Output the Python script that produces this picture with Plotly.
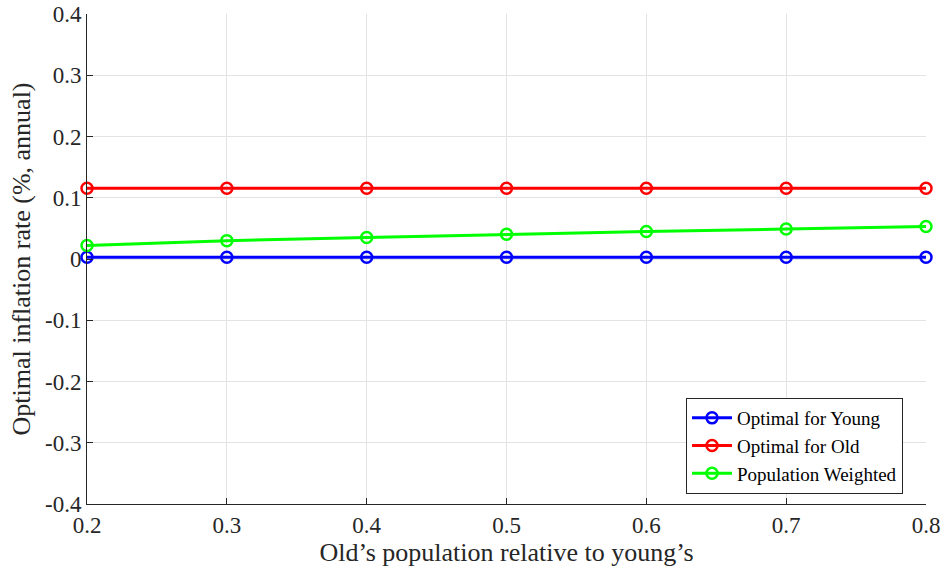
import plotly.graph_objects as go

x_vals = [0.2, 0.3, 0.4, 0.5, 0.6, 0.7, 0.8]
young = [0.003, 0.003, 0.003, 0.003, 0.003, 0.003, 0.003]
old = [0.1155, 0.1155, 0.1155, 0.1155, 0.1155, 0.1155, 0.1155]
weighted = [0.022, 0.030, 0.035, 0.0405, 0.045, 0.049, 0.053]

x_ticks = [0.2, 0.3, 0.4, 0.5, 0.6, 0.7, 0.8]
x_ticktext = ["0.2", "0.3", "0.4", "0.5", "0.6", "0.7", "0.8"]
y_ticks = [-0.4, -0.3, -0.2, -0.1, 0, 0.1, 0.2, 0.3, 0.4]
y_ticktext = ["-0.4", "-0.3", "-0.2", "-0.1", "0", "0.1", "0.2", "0.3", "0.4"]

series = [
    ("Optimal for Young", young, "#0000ff"),
    ("Optimal for Old", old, "#ff0000"),
    ("Population Weighted", weighted, "#00ff00"),
]

font = "Liberation Serif"
fig = go.Figure()
for name, vals, color in series:
    fig.add_trace(go.Scatter(
        x=x_vals, y=vals, name=name, mode="lines+markers",
        line=dict(color=color, width=3),
        marker=dict(symbol="circle-open", size=11, color=color, line=dict(width=2.5, color=color)),
        cliponaxis=False,
    ))

fig.update_layout(
    width=943, height=574,
    margin=dict(l=87, r=17, t=14, b=70, autoexpand=False),
    paper_bgcolor="white", plot_bgcolor="white",
    font=dict(family=font, size=23, color="#262626"),
    showlegend=True,
    legend=dict(
        x=0.9726, y=0.0204, xanchor="right", yanchor="bottom",
        bgcolor="white", bordercolor="#262626", borderwidth=1,
        font=dict(family=font, size=19, color="black"),
        tracegroupgap=0, itemwidth=40,
    ),
)
fig.update_xaxes(
    range=[0.2, 0.8], tickvals=x_ticks, ticktext=x_ticktext,
    showgrid=True, gridcolor="#e3e3e3", gridwidth=1,
    showline=True, linecolor="#262626", linewidth=1,
    ticks="inside", ticklen=6, tickcolor="#262626",
    zeroline=False, mirror=False, automargin=False,
    tickfont=dict(family=font, size=23, color="#262626"),
    title=dict(text="Old\u2019s population relative to young\u2019s", standoff=4,
               font=dict(family=font, size=26, color="#262626")),
)
fig.update_yaxes(
    range=[-0.4, 0.4], tickvals=y_ticks, ticktext=y_ticktext,
    showgrid=True, gridcolor="#e3e3e3", gridwidth=1,
    showline=True, linecolor="#262626", linewidth=1,
    ticks="inside", ticklen=6, tickcolor="#262626",
    zeroline=False, mirror=False, automargin=False,
    tickfont=dict(family=font, size=23, color="#262626"),
    title=dict(text="Optimal inflation rate (%, annual)", standoff=6,
               font=dict(family=font, size=26, color="#262626")),
)

fig.write_html("out.html", config={"displayModeBar": False},
               post_script="document.body.style.margin='0';document.body.style.overflow='hidden';")
